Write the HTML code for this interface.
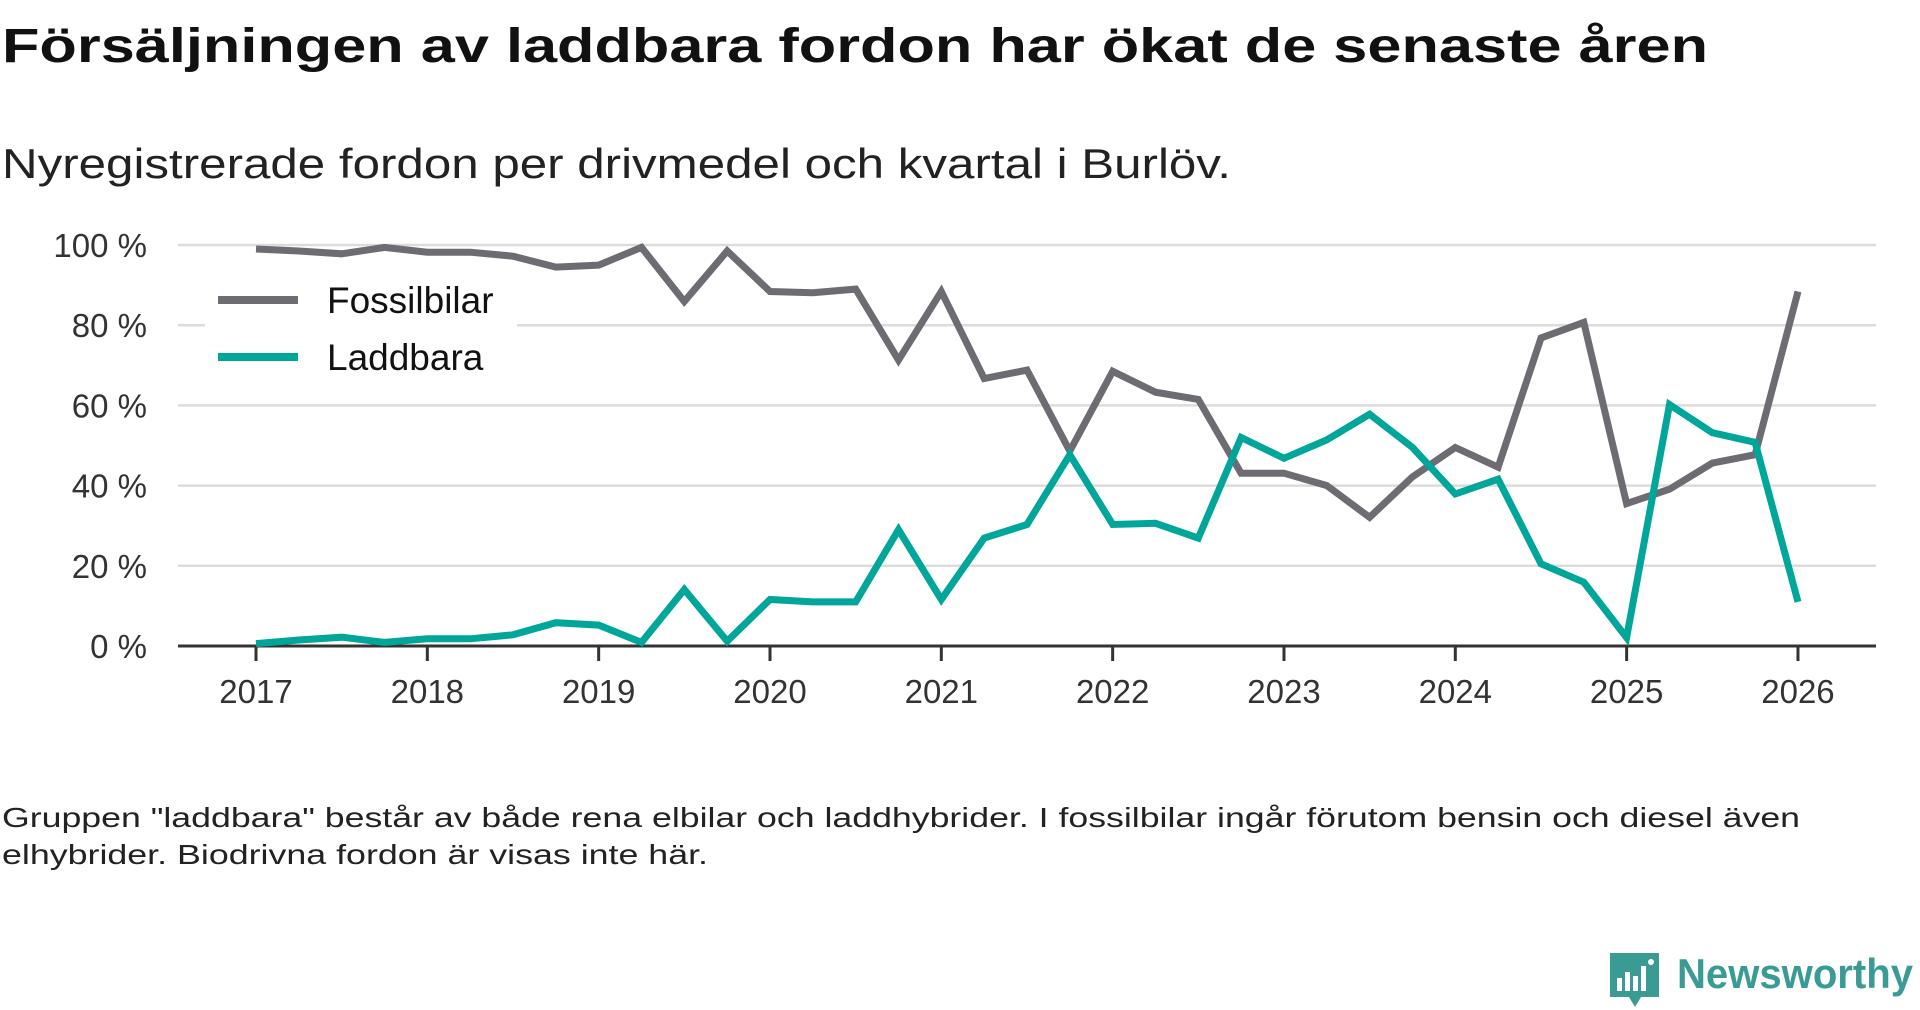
<!DOCTYPE html>
<html><head><meta charset="utf-8"><style>
html,body{margin:0;padding:0;background:#fff;}
svg{display:block;font-family:"Liberation Sans",sans-serif;}
</style></head><body>
<svg id="chart" width="1920" height="1010" viewBox="0 0 1920 1010">
<text x="2" y="62" font-size="48" font-weight="bold" fill="#111" textLength="1706" lengthAdjust="spacingAndGlyphs">Försäljningen av laddbara fordon har ökat de senaste åren</text>
<text x="2" y="178" font-size="42" fill="#222" textLength="1229" lengthAdjust="spacingAndGlyphs">Nyregistrerade fordon per drivmedel och kvartal i Burlöv.</text>
<g id="grid"></g>
<g id="yaxis"></g>
<g id="xaxis"></g>
<g id="lines"></g>
<g>
<rect x="205" y="272" width="312" height="112" fill="#fff"/>
<line x1="218" y1="300" x2="298" y2="300" stroke="#6d6c73" stroke-width="8"/>
<text x="327" y="313" font-size="37" fill="#111">Fossilbilar</text>
<line x1="218" y1="357" x2="298" y2="357" stroke="#00a69a" stroke-width="8"/>
<text x="327" y="370" font-size="37" fill="#111">Laddbara</text>
</g>
<text x="2" y="827" font-size="28" fill="#222" textLength="1798" lengthAdjust="spacingAndGlyphs">Gruppen "laddbara" består av både rena elbilar och laddhybrider. I fossilbilar ingår förutom bensin och diesel även</text>
<text x="2" y="864" font-size="28" fill="#222" textLength="706" lengthAdjust="spacingAndGlyphs">elhybrider. Biodrivna fordon är visas inte här.</text>
<g>
<path d="M1610 953 h49 v44 h-18 l-6 10 l-6 -10 h-19 z" fill="#3a9b94"/>
<rect x="1617" y="978" width="5" height="13" fill="#fff"/>
<rect x="1625" y="972" width="5" height="19" fill="#fff"/>
<rect x="1633" y="976" width="5" height="15" fill="#fff"/>
<rect x="1641" y="966" width="5" height="25" fill="#fff"/>
<circle cx="1651" cy="962" r="3" fill="#fff"/>
<text x="1677" y="988" font-size="42" font-weight="bold" fill="#3a9b94" textLength="236" lengthAdjust="spacingAndGlyphs">Newsworthy</text>
</g>
</svg>
<script>
const yTicks=[0,20,40,60,80,100];
const yTickLabels=["0 %","20 %","40 %","60 %","80 %","100 %"];
const xTicks=[2017,2018,2019,2020,2021,2022,2023,2024,2025,2026];
const xStart=2017;
const quarterStep=0.25;
const fossil=[99,98.5,97.8,99.4,98.2,98.2,97.2,94.5,95,99.4,85.9,98.5,88.4,88.1,89,71.3,88.4,66.7,68.8,48.6,68.5,63.3,61.5,43.1,43.1,40,32.1,42.2,49.5,44.6,76.8,80.7,35.5,39.1,45.6,47.7,88.4];
const laddbara=[0.6,1.5,2.2,0.9,1.8,1.8,2.8,5.8,5.2,0.9,14.1,1.2,11.6,11,11,29,11.6,26.9,30.3,47.7,30.3,30.6,26.9,52,46.8,51.4,57.8,49.5,37.9,41.6,20.5,15.9,2.1,60.2,53.2,50.8,11];

const NS='http://www.w3.org/2000/svg';
const X0=178,X1=1876;
const xs=v=>256+(v-2017)*171.33;
const ys=v=>646-v*4.01;
function mk(tag,attrs,parent){const e=document.createElementNS(NS,tag);for(const k in attrs)e.setAttribute(k,attrs[k]);parent.appendChild(e);return e;}
const grid=document.getElementById('grid'),ya=document.getElementById('yaxis'),xa=document.getElementById('xaxis'),lines=document.getElementById('lines');
yTicks.forEach((t,i)=>{
  if(t>0){const g=mk('line',{x1:X0,x2:X1,y1:ys(t),y2:ys(t),stroke:'#dcdcdc','stroke-width':2.5},grid);
  
  }
  const l=mk('text',{x:147,y:ys(t)+12,'font-size':33,fill:'#333','text-anchor':'end'},ya);
  l.textContent=yTickLabels[i];
  
  
});
const ax=mk('line',{x1:X0,x2:X1,y1:ys(0),y2:ys(0),stroke:'#333','stroke-width':3},xa);


xTicks.forEach(t=>{
  const tk=mk('line',{x1:xs(t),x2:xs(t),y1:ys(0),y2:ys(0)+15,stroke:'#333','stroke-width':3},xa);
  
  
  const l=mk('text',{x:xs(t),y:703,'font-size':33,fill:'#333','text-anchor':'middle'},xa);
  l.textContent=t;
  
  
});
function draw(arr,color,name){
  const d=arr.map((v,i)=>(i?'L':'M')+xs(xStart+i*quarterStep).toFixed(1)+' '+ys(v).toFixed(1)).join(' ');
  const p=mk('path',{d:d,fill:'none',stroke:color,'stroke-width':7,'stroke-linejoin':'miter'},lines);
  
  
}
draw(fossil,'#6d6c73','line-fossilbilar');
draw(laddbara,'#00a69a','line-laddbara');
</script>
</body></html>
